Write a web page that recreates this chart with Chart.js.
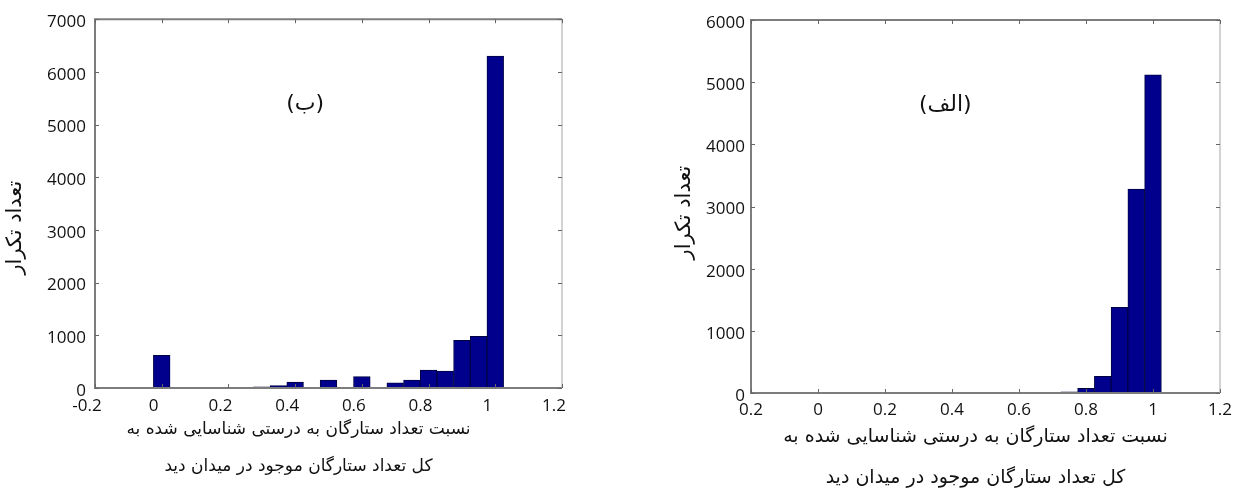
<!DOCTYPE html>
<html>
<head>
<meta charset="utf-8">
<script src="https://cdn.jsdelivr.net/npm/chart.js@4.4.1/dist/chart.umd.min.js"></script>
<style>
  body { margin: 0; background: #fff; width: 1234px; height: 488px; overflow: hidden; position: relative; }
  .box { position: absolute; top: 0; }
  #box-b { left: 0; }
  #box-a { left: 665px; }
</style>
</head>
<body>
<div class="box" id="box-b"><canvas id="chartB" width="600" height="488"></canvas></div>
<div class="box" id="box-a"><canvas id="chartA" width="575" height="488"></canvas></div>
<script>
// bin centres of the histogram (width 0.05)
const binCenters = [0, 0.05, 0.1, 0.15, 0.2, 0.25, 0.3, 0.35, 0.4, 0.45, 0.5,
                    0.55, 0.6, 0.65, 0.7, 0.75, 0.8, 0.85, 0.9, 0.95, 1.0];
// (ب) left panel
const countsB = [620, 0, 0, 0, 0, 10, 20, 45, 110, 15, 150,
                 10, 215, 15, 100, 150, 340, 320, 905, 980, 6300];
// (الف) right panel
const countsA = [0, 0, 0, 0, 0, 0, 0, 0, 0, 0, 0,
                 0, 0, 0, 5, 20, 75, 270, 1380, 3280, 5120];

const xTicks = [-0.2, 0, 0.2, 0.4, 0.6, 0.8, 1, 1.2];
const xLabelsB = ['-0.2', '0', '0.2', '0.4', '0.6', '0.8', '1', '1.2'];
const xLabelsA = ['0.2', '0', '0.2', '0.4', '0.6', '0.8', '1', '1.2'];
const yTicksB = [0, 1000, 2000, 3000, 4000, 5000, 6000, 7000];
const yTicksA = [0, 1000, 2000, 3000, 4000, 5000, 6000];

const yTitle = 'تعداد تکرار';
const xTitle = ['نسبت تعداد ستارگان به درستی شناسایی شده به', 'کل تعداد ستارگان موجود در میدان دید'];

Chart.defaults.font.family = "'Open Sans', sans-serif";
Chart.defaults.color = '#111';

// box round the plot + small inward ticks, matlab style
const framePlugin = {
  id: 'frame',
  afterDraw(chart) {
    const { ctx, chartArea: a, scales } = chart;
    const x = scales.x, y = scales.y;
    ctx.save();
    ctx.strokeStyle = '#7d7d7d';
    ctx.lineWidth = 2;
    ctx.beginPath();
    ctx.moveTo(a.right, a.top);
    ctx.lineTo(a.left, a.top);
    ctx.lineTo(a.left, a.bottom);
    ctx.lineTo(a.right, a.bottom);
    ctx.stroke();
    ctx.strokeStyle = '#a5a5a5';
    ctx.lineWidth = 1;
    ctx.beginPath();
    ctx.moveTo(a.right, a.top);
    ctx.lineTo(a.right, a.bottom);
    ctx.stroke();

    ctx.strokeStyle = '#666';
    ctx.beginPath();
    x.ticks.forEach(t => {
      const px = Math.round(x.getPixelForValue(t.value)) + 0.5;
      ctx.moveTo(px, a.bottom); ctx.lineTo(px, a.bottom - 4);
      ctx.moveTo(px, a.top); ctx.lineTo(px, a.top + 4);
    });
    y.ticks.forEach(t => {
      const py = Math.round(y.getPixelForValue(t.value)) + 0.5;
      ctx.moveTo(a.left, py); ctx.lineTo(a.left + 4, py);
      ctx.moveTo(a.right, py); ctx.lineTo(a.right - 4, py);
    });
    ctx.stroke();
    ctx.restore();
  }
};

// panel name inside the plot and the two axis titles (persian, rtl)
const textPlugin = {
  id: 'texts',
  afterDraw(chart, args, o) {
    const { ctx, chartArea: a, scales } = chart;
    ctx.save();
    ctx.fillStyle = '#111';
    ctx.textAlign = 'center';
    ctx.textBaseline = 'middle';
    ctx.direction = 'rtl';

    ctx.font = o.panelFont;
    ctx.fillText(o.panel, scales.x.getPixelForValue(o.panelX), scales.y.getPixelForValue(o.panelY));

    ctx.font = o.xFont;
    const cx = (a.left + a.right) / 2 + o.xShift;
    xTitle.forEach((line, i) => ctx.fillText(line, cx, o.xRows[i]));

    ctx.translate(o.yX, (a.top + a.bottom) / 2 + o.yShift);
    ctx.rotate(-Math.PI / 2);
    ctx.font = o.yFont;
    ctx.fillText(yTitle, 0, 0);
    ctx.restore();
  }
};

function makeChart(id, counts, labels, yTicks, s) {
  const points = binCenters.map((c, i) => ({ x: c, y: counts[i] }));
  return new Chart(document.getElementById(id), {
    type: 'bar',
    data: {
      datasets: [{
        data: points,
        backgroundColor: '#00008c',
        borderColor: '#000045',
        borderWidth: 1,
        barPercentage: 1,
        categoryPercentage: 1
      }]
    },
    options: {
      responsive: false,
      animation: false,
      layout: { padding: { top: s.top, right: s.right, left: 0, bottom: 0 } },
      plugins: {
        legend: { display: false },
        tooltip: { enabled: false },
        texts: s.texts
      },
      scales: {
        x: {
          type: 'linear',
          offset: false,
          min: -0.2,
          max: 1.2,
          afterBuildTicks: sc => { sc.ticks = xTicks.map(v => ({ value: v })); },
          afterFit: sc => { sc.height = s.xHeight; },
          grid: { display: false, drawTicks: false },
          border: { display: false },
          ticks: {
            autoSkip: false,
            maxRotation: 0,
            padding: s.xPad,
            labelOffset: s.xLabelOffset,
            font: { size: 17 },
            callback: (v, i) => labels[i]
          }
        },
        y: {
          min: 0,
          max: yTicks[yTicks.length - 1],
          afterBuildTicks: sc => { sc.ticks = yTicks.map(v => ({ value: v })); },
          afterFit: sc => { sc.width = s.yWidth; },
          grid: { display: false, drawTicks: false },
          border: { display: false },
          ticks: {
            padding: s.yPad,
            labelOffset: 3,
            font: { size: 17 },
            callback: v => String(v)
          }
        }
      }
    },
    plugins: [framePlugin, textPlugin]
  });
}

makeChart('chartB', countsB, xLabelsB, yTicksB, {
  top: 17, right: 38, xHeight: 100, yWidth: 95, xPad: 8, yPad: 9, xLabelOffset: -8,
  texts: {
    panel: '(ب)', panelX: 0.43, panelY: 5380, panelFont: "22px 'DejaVu Sans'",
    xFont: "17px 'DejaVu Sans'", xShift: -30, xRows: [430, 467],
    yFont: "21px 'DejaVu Sans'", yX: 16, yShift: 24
  }
});

makeChart('chartA', countsA, xLabelsA, yTicksA, {
  top: 20, right: 20, xHeight: 95, yWidth: 86, xPad: 7, yPad: 6, xLabelOffset: 0,
  texts: {
    panel: '(الف)', panelX: 0.38, panelY: 4630, panelFont: "22px 'DejaVu Sans'",
    xFont: "19px 'DejaVu Sans'", xShift: -10, xRows: [437, 478],
    yFont: "21px 'DejaVu Sans'", yX: 20, yShift: 6
  }
});
</script>
</body>
</html>
